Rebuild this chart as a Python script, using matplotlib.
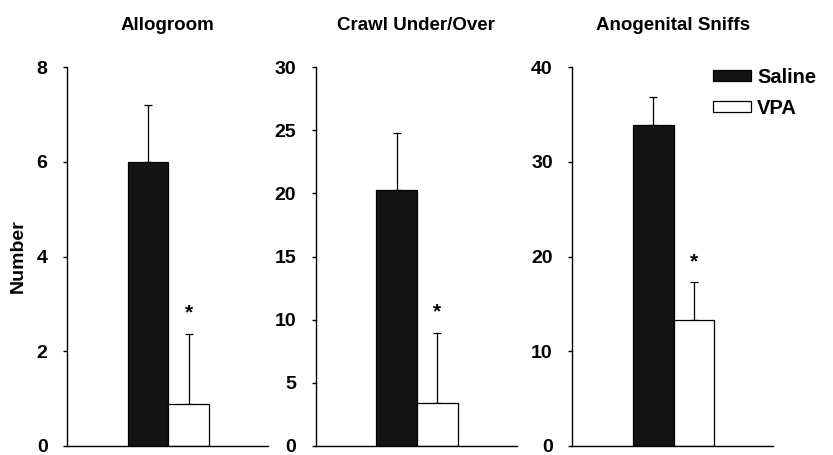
import matplotlib
matplotlib.use("Agg")
import matplotlib.pyplot as plt
from matplotlib.patches import Patch
import numpy as np

plt.rcParams['font.family'] = ['Liberation Sans', 'DejaVu Sans']
plt.rcParams['font.weight'] = 'bold'

# Behaviour counts: group means with upper SEM
panels = ["Allogroom", "Crawl Under/Over", "Anogenital Sniffs"]
groups = ["Saline", "VPA"]
saline_mean = [6.0, 20.3, 33.9]
saline_sem = [1.2, 4.5, 3.0]
vpa_mean = [0.87, 3.4, 13.3]
vpa_sem = [1.5, 5.55, 3.95]
y_max = [8, 30, 40]
y_ticks = [[0, 2, 4, 6, 8], [0, 5, 10, 15, 20, 25, 30], [0, 10, 20, 30, 40]]
significant = [True, True, True]

fig = plt.figure(figsize=(8.33, 4.55), dpi=100)
lefts = [67, 315.7, 572.3]
W, H = 833, 455
ax_w = 201
ax_bottom_px, ax_top_px = 445.5, 67.5

bar_dark = "#141414"
for i, name in enumerate(panels):
    ax = fig.add_axes([lefts[i] / W, 1 - ax_bottom_px / H, ax_w / W,
                       (ax_bottom_px - ax_top_px) / H])
    x = np.array([0, 1])
    means = [saline_mean[i], vpa_mean[i]]
    sems = [saline_sem[i], vpa_sem[i]]
    # error bars drawn first so the bars cover the lower halves
    ax.errorbar(x, means, yerr=[[0, 0], sems], fmt='none', ecolor='black',
                elinewidth=0.9, capsize=3, capthick=0.9, zorder=1)
    ax.bar(x, means, width=1.0, color=[bar_dark, 'white'],
           edgecolor=['black', 'black'], linewidth=0.9, zorder=2)
    if significant[i]:
        ax.annotate('*', xy=(1, vpa_mean[i] + vpa_sem[i]), xytext=(0, 8),
                    textcoords='offset points', ha='center', va='bottom',
                    fontsize=15, fontweight='bold')
    ax.set_xlim(-2.0, 2.96)
    ax.set_ylim(0, y_max[i])
    ax.set_yticks(y_ticks[i])
    ax.set_xticks([])
    ax.spines['top'].set_visible(False)
    ax.spines['right'].set_visible(False)
    for s in ('left', 'bottom'):
        ax.spines[s].set_linewidth(1.0)
    ax.tick_params(axis='y', direction='out', length=3, width=1.0, pad=11,
                   labelsize=14)
    for lab in ax.get_yticklabels():
        lab.set_fontweight('bold')
    ax.set_title(name, fontsize=13.5, fontweight='bold', pad=27)
    ax.patch.set_visible(False)
    if i == 0:
        ax.set_ylabel("Number", fontsize=14, fontweight='bold', labelpad=7)
    if i == 2:
        handles = [Patch(facecolor=bar_dark, edgecolor='black', linewidth=0.9),
                   Patch(facecolor='white', edgecolor='black', linewidth=0.9)]
        fig.legend(handles, groups, loc='upper left',
                   bbox_to_anchor=(713 / W, 1 - 68 / H), frameon=False,
                   handlelength=1.9, handleheight=0.47, handletextpad=0.3,
                   labelspacing=0.6, borderpad=0, borderaxespad=0,
                   prop={'weight': 'bold', 'size': 14.5})

fig.savefig("out.png", dpi=100)
